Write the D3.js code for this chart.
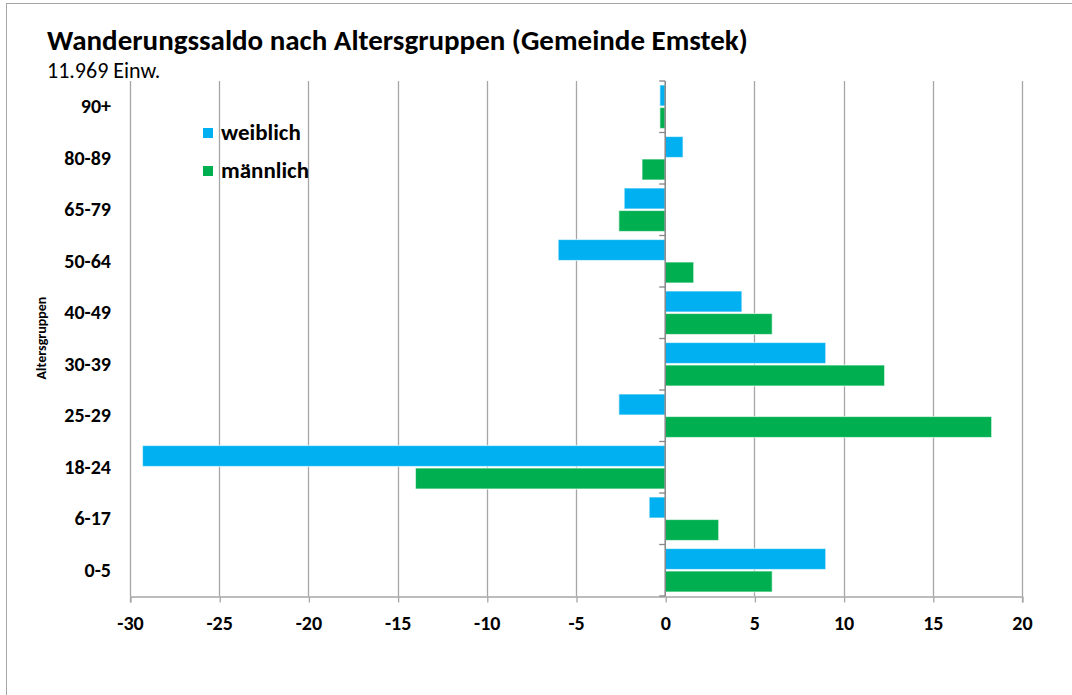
<!DOCTYPE html>
<html>
<head>
<meta charset="utf-8">
<script src="https://cdn.jsdelivr.net/npm/d3@7/dist/d3.min.js"></script>
<style>
  html, body { margin: 0; padding: 0; background: #fff; }
  svg { display: block; }
  text { font-family: Carlito, Calibri, Lato, "Open Sans", sans-serif; fill: #000; }
</style>
</head>
<body>
<svg id="chart" width="1072" height="695"></svg>
<script>
const categories = ["90+", "80-89", "65-79", "50-64", "40-49", "30-39", "25-29", "18-24", "6-17", "0-5"];
const weiblich = [-0.3, 1.0, -2.3, -6.0, 4.3, 9.0, -2.6, -29.3, -0.9, 9.0];
const maennlich = [-0.3, -1.3, -2.6, 1.6, 6.0, 12.3, 18.3, -14.0, 3.0, 6.0];
const xTicks = [-30, -25, -20, -15, -10, -5, 0, 5, 10, 15, 20];
const seriesNames = ["weiblich", "männlich"];
const seriesColors = ["#00B0F0", "#00B050"];

const svg = d3.select("#chart");

// outer frame
svg.append("rect").attr("x", 6.5).attr("y", 3.5).attr("width", 1080).attr("height", 720)
  .attr("fill", "none").attr("stroke", "#a6a6a6").attr("stroke-width", 1);

const x = d3.scaleLinear().domain([-30, 20]).range([130, 1022]);
const y = d3.scaleBand().domain(categories).range([81, 596]).padding(0);
const bw = y.bandwidth();

// gridlines
svg.append("g").selectAll("line").data(xTicks.filter(d => d !== 0)).join("line")
  .attr("x1", d => Math.round(x(d)) + 0.5).attr("x2", d => Math.round(x(d)) + 0.5)
  .attr("y1", 81).attr("y2", 596)
  .attr("stroke", "#a6a6a6").attr("stroke-width", 1.3);

// x axis
const xAxis = svg.append("g").attr("transform", "translate(0,596.5)")
  .call(d3.axisBottom(x).tickValues(xTicks).tickSize(6).tickFormat(d3.format("d")));
xAxis.select(".domain").attr("stroke", "#a6a6a6").attr("stroke-width", 1.3);
xAxis.selectAll(".tick line").attr("stroke", "#a6a6a6").attr("stroke-width", 1.3)
  .attr("transform", "translate(0.5,0)");
xAxis.selectAll(".tick text").attr("y", 19).attr("dy", "0.71em")
  .style("font-size", "20px").style("font-weight", "bold")
  .style("font-family", "Carlito, Calibri, Lato, sans-serif").attr("fill", "#000")
  .text(d => d < 0 ? "-" + Math.abs(d) : d);

// bars
const barH = 21;
const g = svg.append("g");
[weiblich, maennlich].forEach((vals, s) => {
  g.selectAll(".bar" + s).data(categories).join("rect")
    .attr("class", "bar" + s)
    .attr("x", (d, i) => x(Math.min(0, vals[i])))
    .attr("width", (d, i) => Math.abs(x(vals[i]) - x(0)))
    .attr("y", d => y(d) + 4 + s * 22.5)
    .attr("height", barH)
    .attr("fill", seriesColors[s])
    .attr("stroke", "#ffffff").attr("stroke-opacity", 0.6).attr("stroke-width", 1.2);
});

// zero axis (category axis)
const yAxisG = svg.append("g").attr("transform", "translate(" + (x(0)) + ",0)");
yAxisG.append("line").attr("x1", 0).attr("x2", 0).attr("y1", 81).attr("y2", 596)
  .attr("stroke", "#868686").attr("stroke-width", 1.5);
yAxisG.selectAll(".ctick").data(categories.concat(["__end"])).join("line")
  .attr("class", "ctick")
  .attr("x1", -6).attr("x2", 0)
  .attr("y1", (d, i) => 81 + i * bw).attr("y2", (d, i) => 81 + i * bw)
  .attr("stroke", "#868686").attr("stroke-width", 1.3);

// category labels
svg.append("g").selectAll("text").data(categories).join("text")
  .attr("x", 111).attr("y", d => y(d) + bw / 2 - 0.5)
  .attr("text-anchor", "end").attr("dominant-baseline", "central")
  .style("font-size", "20px").style("font-weight", "bold")
  .text(d => d);

// axis title
svg.append("text")
  .attr("transform", "translate(45.5,338) rotate(-90)")
  .attr("text-anchor", "middle")
  .style("font-size", "14px").style("font-weight", "bold")
  .text("Altersgruppen");

// title
svg.append("text").attr("x", 47).attr("y", 50)
  .style("font-size", "29px").style("font-weight", "bold")
  .text("Wanderungssaldo nach Altersgruppen (Gemeinde Emstek)");
svg.append("text").attr("x", 47).attr("y", 78)
  .style("font-size", "22px")
  .text("11.969 Einw.");

// legend
const leg = svg.append("g");
seriesNames.forEach((n, i) => {
  leg.append("rect").attr("x", 203).attr("y", 128 + i * 38).attr("width", 10).attr("height", 10)
    .attr("fill", seriesColors[i]);
  leg.append("text").attr("x", 221).attr("y", 140 + i * 38)
    .style("font-size", "23px").style("font-weight", "bold").text(n);
});
</script>
</body>
</html>
